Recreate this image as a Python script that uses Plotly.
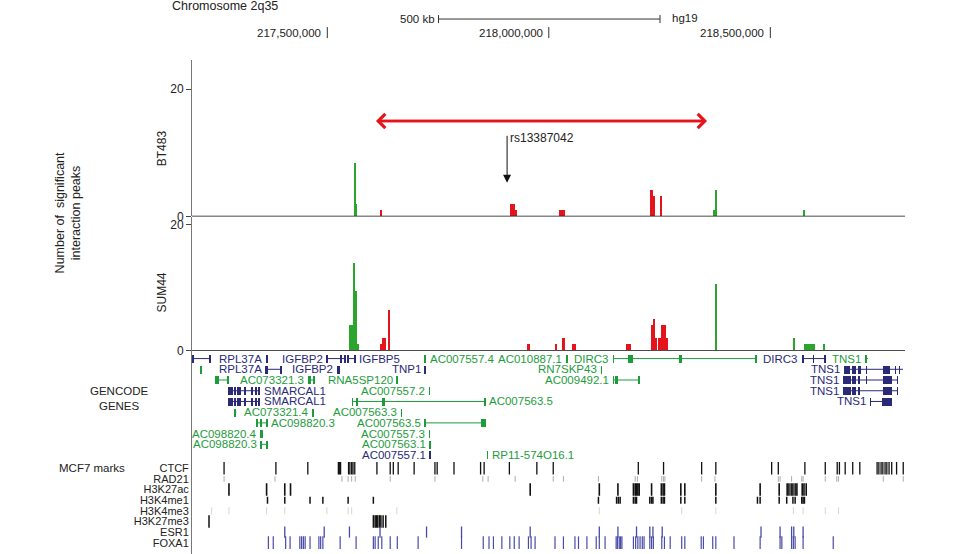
import plotly.graph_objects as go

# chr2 window shown (hg19), in Mb
x_start = 217.1946
x_end = 218.8040

# significant interaction peaks, BT483: position (Mb), bar width (Mb), count, kind (g = green, r = red)
bt483_pos = [217.5614, 217.5659, 217.6219, 217.9181, 217.9271, 218.0298,
             218.2323, 218.2368, 218.2537, 218.3740, 218.3770, 218.5767]
bt483_width = [0.0045, 0.0034, 0.0045, 0.0113, 0.0034, 0.0135,
               0.0045, 0.0045, 0.0040, 0.0023, 0.0034, 0.0034]
bt483_count = [8.4, 2, 1, 2, 1, 1, 4.2, 3.2, 3.2, 1, 4.2, 1]
bt483_kind = ['g', 'g', 'r', 'r', 'r', 'r', 'r', 'r', 'r', 'g', 'g', 'g']

# SUM44
sum44_pos = [217.5546, 217.5607, 217.5646, 217.5688, 217.6223, 217.6275, 217.6386,
             217.9537, 218.0167, 218.0327, 218.0562, 218.1794, 218.2334, 218.2379,
             218.2418, 218.2499, 218.2582, 218.2668, 218.3774, 218.5542, 218.5882, 218.6205]
sum44_width = [0.0102, 0.0038, 0.0038, 0.0052, 0.0036, 0.0097, 0.0027,
               0.0074, 0.0027, 0.0074, 0.0090, 0.0120, 0.0052, 0.0038,
               0.0038, 0.0054, 0.0113, 0.0059, 0.0027, 0.0027, 0.0242, 0.0027]
sum44_count = [4, 13.8, 9.4, 1, 1, 2, 6.3,
               1, 1, 2, 1, 1, 4, 5,
               2, 2, 4, 2, 10.5, 2, 1, 1]
sum44_kind = ['g', 'g', 'g', 'g', 'r', 'r', 'r',
              'r', 'r', 'r', 'r', 'r', 'r', 'r',
              'r', 'r', 'r', 'r', 'g', 'g', 'g', 'g']

# GENCODE genes: name, row, start, end (Mb), type (c = coding, n = non-coding), label side
gene_name = ['', 'RPL37A', 'IGFBP2', 'IGFBP5', 'AC007557.4', 'AC010887.1', 'DIRC3', 'DIRC3', 'TNS1',
             '', 'RPL37A', 'IGFBP2', 'TNP1', 'RN7SKP43', 'TNS1',
             '', 'AC073321.3', 'RNA5SP120', 'AC009492.1', 'TNS1',
             'SMARCAL1', 'AC007557.2', 'TNS1',
             'SMARCAL1', 'AC007563.5', 'TNS1',
             '', 'AC073321.4', 'AC007563.3',
             'AC098820.3', 'AC007563.5',
             'AC098820.4', 'AC007557.3',
             'AC098820.3', 'AC007563.1',
             'AC007557.1', 'RP11-574O16.1']
gene_row = [1, 1, 1, 1, 1, 1, 1, 1, 1,
            2, 2, 2, 2, 2, 2,
            3, 3, 3, 3, 3,
            4, 4, 4,
            5, 5, 5,
            6, 6, 6,
            7, 7,
            8, 8,
            9, 9,
            10, 10]
gene_start = [217.1968, 217.3616, 217.4993, 217.5445, 217.7205, 218.0399, 218.1449, 218.5715, 218.7138,
              217.2149, 217.3616, 217.5219, 217.7205, 218.1178, 218.6664,
              217.2465, 217.4564, 217.6573, 218.1449, 218.6641,
              217.2758, 217.7296, 218.6641,
              217.2758, 217.5558, 218.7250,
              217.2894, 217.4677, 217.6664,
              217.3413, 217.7205,
              217.3494, 217.7296,
              217.3503, 217.7318,
              217.7318, 217.8605]
gene_end = [217.2352, 217.3661, 217.5422, 217.5625, 217.7225, 218.0419, 218.4677, 218.6235, 218.7205,
            217.2169, 217.3955, 217.5287, 217.7225, 218.1198, 218.7995,
            217.2758, 217.4700, 217.6593, 218.2036, 218.7882,
            217.3481, 217.7316, 218.7882,
            217.3481, 217.8560, 218.7747,
            217.2950, 217.4697, 217.6684,
            217.3639, 217.8582,
            217.3539, 217.7316,
            217.3639, 217.7338,
            217.7338, 217.8625]
gene_type = ['c', 'c', 'c', 'c', 'n', 'n', 'n', 'c', 'n',
             'n', 'c', 'c', 'c', 'n', 'c',
             'n', 'n', 'n', 'n', 'c',
             'c', 'n', 'c',
             'c', 'n', 'c',
             'n', 'n', 'n',
             'n', 'n',
             'n', 'n',
             'n', 'n',
             'c', 'n']
gene_side = ['', 'L', 'L', 'R', 'R', 'L', 'L', 'L', 'L',
             '', 'L', 'L', 'L', 'L', 'L',
             '', 'L', 'L', 'L', 'L',
             'R', 'L', 'L',
             'R', 'R', 'L',
             '', 'L', 'L',
             'R', 'L',
             'L', 'L',
             'L', 'L',
             'L', 'R']

# exons: row, start (Mb), length (Mb), type
exon_row = [1, 1, 1, 1, 1, 1, 1, 1, 1, 1, 1, 1, 1, 1, 1, 1, 1, 1, 1,
            2, 2, 2, 2, 2, 2, 2, 2, 2, 2, 2, 2, 2,
            3, 3, 3, 3, 3, 3, 3, 3, 3, 3, 3, 3, 3, 3,
            4, 4, 4, 4, 4, 4, 4, 4, 4, 4, 4, 4, 4, 4, 4,
            5, 5, 5, 5, 5, 5, 5, 5, 5, 5, 5, 5, 5, 5, 5,
            6, 6, 6,
            7, 7, 7, 7, 7,
            8, 8,
            9, 9, 9,
            10, 10]
exon_start = [217.1968, 217.2342, 217.3616, 217.4993, 217.5287, 217.5388, 217.5445, 217.5612,
              217.7205, 218.0399, 218.1449, 218.1788, 218.2939, 218.4665,
              218.5715, 218.5738, 218.5964, 218.6225, 218.7138,
              217.2149, 217.3616, 217.3945, 217.5219, 217.7205, 218.1178,
              218.6664, 218.6844, 218.6980, 218.7160, 218.7544, 218.7815, 218.7905,
              217.2465, 217.2748, 217.4564, 217.4690, 217.6573, 218.1449, 218.1494, 218.2026,
              218.6641, 218.6844, 218.6980, 218.7160, 218.7544, 218.7860,
              217.2758, 217.2826, 217.2894, 217.2973, 217.3029, 217.3142, 217.3278, 217.3368, 217.3436,
              217.7296, 218.6641, 218.6844, 218.6980, 218.7544, 218.7860,
              217.2758, 217.2826, 217.2894, 217.2973, 217.3029, 217.3142, 217.3278, 217.3368, 217.3436,
              217.5558, 217.5670, 217.6257, 217.8550, 218.7250, 218.7521,
              217.2894, 217.4677, 217.6664,
              217.3413, 217.3481, 217.3629, 217.7205, 217.8469,
              217.3494, 217.7296,
              217.3503, 217.3629, 217.7318,
              217.7318, 217.8605]
exon_len = [0.0020, 0.0030, 0.0045, 0.0030, 0.0034, 0.0034, 0.0035, 0.0025,
            0.0020, 0.0020, 0.0020, 0.0113, 0.0068, 0.0020,
            0.0020, 0.0020, 0.0020, 0.0020, 0.0030,
            0.0020, 0.0040, 0.0020, 0.0068, 0.0020, 0.0020,
            0.0135, 0.0090, 0.0067, 0.0020, 0.0158, 0.0020, 0.0020,
            0.0090, 0.0020, 0.0068, 0.0020, 0.0020, 0.0020, 0.0068, 0.0020,
            0.0180, 0.0090, 0.0045, 0.0020, 0.0203, 0.0020,
            0.0045, 0.0045, 0.0045, 0.0020, 0.0020, 0.0025, 0.0025, 0.0025, 0.0045,
            0.0020, 0.0180, 0.0090, 0.0045, 0.0203, 0.0020,
            0.0045, 0.0045, 0.0045, 0.0020, 0.0020, 0.0025, 0.0025, 0.0025, 0.0045,
            0.0020, 0.0020, 0.0040, 0.0020, 0.0020, 0.0226,
            0.0056, 0.0020, 0.0020,
            0.0020, 0.0045, 0.0020, 0.0020, 0.0113,
            0.0045, 0.0020,
            0.0020, 0.0020, 0.0020,
            0.0020, 0.0020]
exon_type = ['c', 'c', 'c', 'c', 'c', 'c', 'c', 'c',
             'n', 'n', 'n', 'n', 'n', 'n',
             'c', 'c', 'c', 'c', 'n',
             'n', 'c', 'c', 'c', 'c', 'n',
             'c', 'c', 'c', 'c', 'c', 'c', 'c',
             'n', 'n', 'n', 'n', 'n', 'n', 'n', 'n',
             'c', 'c', 'c', 'c', 'c', 'c',
             'c', 'c', 'c', 'c', 'c', 'c', 'c', 'c', 'c',
             'n', 'c', 'c', 'c', 'c', 'c',
             'c', 'c', 'c', 'c', 'c', 'c', 'c', 'c', 'c',
             'n', 'n', 'n', 'n', 'c', 'c',
             'n', 'n', 'n',
             'n', 'n', 'n', 'n', 'n',
             'n', 'n',
             'n', 'n', 'n',
             'c', 'n']

# MCF7 marks (peak positions, Mb)
mark_names = ['CTCF', 'RAD21', 'H3K27ac', 'H3K4me1', 'H3K4me3', 'H3K27me3', 'ESR1', 'FOXA1']
ctcf = [217.267, 217.384, 217.456, 217.525, 217.528, 217.530, 217.548, 217.551, 217.555, 217.558,
        217.562, 217.612, 217.642, 217.649, 217.660, 217.696, 217.743, 217.748, 217.786, 217.846,
        217.854, 217.911, 217.973, 218.010, 218.202, 218.259, 218.345, 218.377, 218.503, 218.518,
        218.578, 218.624, 218.651, 218.656, 218.669, 218.686, 218.702, 218.741, 218.745, 218.750,
        218.754, 218.759, 218.763, 218.768, 218.774, 218.785, 218.800]
rad21 = [217.267, 217.382, 217.533, 217.547, 217.555, 217.563, 217.642, 217.743, 217.851, 217.863,
         217.924, 218.010, 218.033, 218.112, 218.195, 218.200, 218.255, 218.259, 218.262, 218.345,
         218.375, 218.518, 218.522, 218.548, 218.571, 218.574, 218.624, 218.650, 218.654, 218.755,
         218.800]
h3k27ac = [217.278, 217.363, 217.404, 217.417, 217.958, 218.114, 218.156, 218.191, 218.195, 218.198,
           218.201, 218.204, 218.232, 218.254, 218.258, 218.261, 218.298, 218.307, 218.377, 218.477,
           218.520, 218.538, 218.542, 218.547, 218.551, 218.556, 218.560, 218.572, 218.576, 218.581]
h3k4me1 = [217.365, 217.404, 217.461, 217.490, 217.547, 217.604, 218.112, 218.153, 218.157, 218.161,
           218.191, 218.195, 218.198, 218.228, 218.232, 218.235, 218.254, 218.258, 218.261, 218.298,
           218.307, 218.377, 218.471, 218.477, 218.520, 218.537, 218.551, 218.556, 218.571, 218.574,
           218.577]
h3k4me3 = [217.239, 217.278, 217.363, 217.404, 217.499, 217.547, 217.555, 217.657, 218.114, 218.300,
           218.377, 218.552, 218.574, 218.624, 218.654]
h3k27me3 = [217.233, 217.604, 217.608, 217.611, 217.614, 217.618, 217.621, 217.626, 217.632]
esr1 = [217.404, 217.493, 217.550, 217.619, 217.724, 217.803, 217.958, 218.114, 218.156, 218.198,
        218.228, 218.235, 218.256, 218.479, 218.522, 218.548, 218.553, 218.574]
foxa1 = [217.367, 217.378, 217.406, 217.416, 217.438, 217.442, 217.446, 217.450, 217.461, 217.481,
         217.485, 217.490, 217.529, 217.565, 217.604, 217.608, 217.615, 217.623, 217.642, 217.658,
         217.705, 217.803, 217.852, 217.865, 217.875, 217.894, 217.912, 217.922, 217.933, 217.954,
         217.960, 217.969, 218.014, 218.033, 218.059, 218.067, 218.086, 218.107, 218.114, 218.127,
         218.152, 218.155, 218.159, 218.162, 218.165, 218.191, 218.196, 218.201, 218.206, 218.211,
         218.215, 218.228, 218.232, 218.236, 218.255, 218.261, 218.274, 218.300, 218.307, 218.344,
         218.349, 218.370, 218.377, 218.418, 218.477, 218.522, 218.526, 218.548, 218.552, 218.556,
         218.574, 218.642]
marks = [ctcf, rad21, h3k27ac, h3k4me1, h3k4me3, h3k27me3, esr1, foxa1]

coord_ticks = [217.5, 218.0, 218.5]
scale_bar = [217.751, 218.251]
tad_arrow = [217.6099, 218.3571]   # red double arrow
tad_level = 15
snp_pos = 217.9058   # rs13387042
snp_name = 'rs13387042'

FONT = 'Liberation Sans, Arial, sans-serif'
H = 554        # layout positions below are given in pixels of a 554-high picture
H_FIG = 562    # the photograph comes out ~1.4% shorter than the figure, so draw it that much taller
RED = '#e5141c'
GREEN = '#2ba52e'
bar_col = {'g': GREEN, 'r': RED}
gene_col = {'c': '#2a2a78', 'n': '#1e9c3c'}
mark_style = {  # colour, tick length px, line width
    'CTCF': ('#111111', 9, 1.3), 'RAD21': ('#aaaaaa', 4, 1.0), 'H3K27ac': ('#111111', 9, 1.6),
    'H3K4me1': ('#111111', 5, 1.5), 'H3K4me3': ('#d6d6d6', 5, 1.0), 'H3K27me3': ('#111111', 9, 1.5),
    'ESR1': ('#4a4aa8', 8, 1.3), 'FOXA1': ('#4a4aa8', 9, 1.2)}


def py(p):
    return 1 - p / H


fig = go.Figure()

for pos, wid, cnt, kind, ax in [(bt483_pos, bt483_width, bt483_count, bt483_kind, 'y'),
                                (sum44_pos, sum44_width, sum44_count, sum44_kind, 'y2')]:
    for k, col in bar_col.items():
        idx = [i for i, v in enumerate(kind) if v == k]
        fig.add_trace(go.Bar(x=[pos[i] for i in idx], y=[cnt[i] for i in idx],
                             width=[wid[i] for i in idx], yaxis=ax,
                             marker=dict(color=col, line=dict(width=0)),
                             showlegend=False, hoverinfo='skip'))

# gene bodies
for t, col in gene_col.items():
    xs, ys = [], []
    for r, s, e, gt in zip(gene_row, gene_start, gene_end, gene_type):
        if gt == t and e - s > 0.003:
            xs += [s, e, None]
            ys += [r, r, None]
    fig.add_trace(go.Scatter(x=xs, y=ys, mode='lines', yaxis='y3',
                             line=dict(color=col, width=1), showlegend=False, hoverinfo='skip'))

# exons
for t, col in gene_col.items():
    idx = [i for i, v in enumerate(exon_type) if v == t]
    fig.add_trace(go.Bar(orientation='h', y=[exon_row[i] for i in idx],
                         x=[exon_len[i] for i in idx], base=[exon_start[i] for i in idx],
                         width=0.75, yaxis='y3', marker=dict(color=col, line=dict(width=0)),
                         showlegend=False, hoverinfo='skip'))

# marks
for i, (name, vals) in enumerate(zip(mark_names, marks)):
    col, size, lw = mark_style[name]
    fig.add_trace(go.Scatter(x=vals, y=[i + 1] * len(vals), mode='markers', yaxis='y4',
                             marker=dict(symbol='line-ns', size=size, color=col,
                                         line=dict(color=col, width=lw)),
                             showlegend=False, hoverinfo='skip'))

ann = []
for name, r, s, e, gt, side in zip(gene_name, gene_row, gene_start, gene_end, gene_type, gene_side):
    if not side:
        continue
    ann.append(dict(x=s if side == 'L' else e, y=r, xref='x', yref='y3', text=name,
                    xanchor='right' if side == 'L' else 'left', yanchor='middle',
                    xshift=-2 if side == 'L' else 2,
                    showarrow=False, font=dict(size=11.5, color=gene_col[gt])))

txt = dict(family=FONT, size=12, color='#222222')
small = dict(family=FONT, size=11.5, color='#222222')
ann += [
    dict(x=170 / 960, y=py(6), xref='paper', yref='paper', text='Chromosome 2q35',
         xanchor='left', yanchor='middle', showarrow=False, font=dict(size=12.5, color='#222222')),
    dict(x=scale_bar[0], y=py(19), xref='x', yref='paper', text='500 kb', xanchor='right',
         yanchor='middle', xshift=-2, showarrow=False, font=small),
    dict(x=scale_bar[1], y=py(18), xref='x', yref='paper', text='hg19', xanchor='left',
         yanchor='middle', xshift=10, showarrow=False, font=small),
    dict(x=68 / 960, y=py(213), xref='paper', yref='paper', textangle=-90,
         text='Number of  significant<br>interaction peaks', showarrow=False,
         xanchor='center', yanchor='middle', font=dict(size=12.5, color='#222222')),
    dict(x=162 / 960, y=py(148), xref='paper', yref='paper', textangle=-90, text='BT483',
         xanchor='center', yanchor='middle', showarrow=False, font=txt),
    dict(x=162 / 960, y=py(292), xref='paper', yref='paper', textangle=-90, text='SUM44',
         xanchor='center', yanchor='middle', showarrow=False, font=txt),
    dict(x=119 / 960, y=py(398), xref='paper', yref='paper', text='GENCODE<br>GENES',
         xanchor='center', yanchor='middle', showarrow=False, font=small),
    dict(x=57 / 960, y=py(467), xref='paper', yref='paper', text='MCF7 marks', xanchor='left',
         yanchor='middle', showarrow=False, font=dict(size=11.5, color='#222222')),
    dict(x=tad_arrow[0], y=tad_level, ax=tad_arrow[1], ay=tad_level, xref='x', yref='y',
         axref='x', ayref='y', text='', showarrow=True, arrowhead=4, arrowsize=1.1,
         arrowwidth=2.5, arrowcolor=RED),
    dict(x=tad_arrow[1], y=tad_level, ax=tad_arrow[0], ay=tad_level, xref='x', yref='y',
         axref='x', ayref='y', text='', showarrow=True, arrowhead=4, arrowsize=1.1,
         arrowwidth=2.5, arrowcolor=RED),
    dict(x=snp_pos, y=5.3, ax=snp_pos, ay=12.9, xref='x', yref='y', axref='x', ayref='y',
         text='', showarrow=True, arrowhead=2, arrowsize=1.6, arrowwidth=1, arrowcolor='#111111'),
    dict(x=snp_pos, y=12.4, xref='x', yref='y', text=snp_name, xanchor='left', yanchor='middle',
         xshift=1, showarrow=False, font=txt),
]
for t in coord_ticks:
    ann.append(dict(x=t, y=py(33), xref='x', yref='paper', text=f'{int(t * 1e6):,}',
                    xanchor='right', yanchor='middle', xshift=-4, showarrow=False, font=small))

shapes = [
    dict(type='line', xref='x domain', yref='y', x0=0, x1=1, y0=0, y1=0,
         line=dict(color='#111111', width=1.5)),
    dict(type='line', xref='x domain', yref='y2', x0=0, x1=1, y0=0, y1=0,
         line=dict(color='#111111', width=1.5)),
    dict(type='line', xref='x', yref='paper', x0=scale_bar[0], x1=scale_bar[1],
         y0=py(19), y1=py(19), line=dict(color='#333333', width=1)),
]
for xb in scale_bar:
    shapes.append(dict(type='line', xref='x', yref='paper', x0=xb, x1=xb, y0=py(15), y1=py(23),
                       line=dict(color='#333333', width=1)))
for t in coord_ticks:
    shapes.append(dict(type='line', xref='x', yref='paper', x0=t, x1=t, y0=py(27), y1=py(38),
                       line=dict(color='#333333', width=1)))

axis_line = dict(showline=True, linecolor='#777777', linewidth=1, showgrid=False,
                 zeroline=False, anchor='x')
fig.update_layout(
    width=960, height=H_FIG, autosize=False, margin=dict(l=0, r=0, t=0, b=0),
    paper_bgcolor='white', plot_bgcolor='white', barmode='overlay', bargap=0,
    font=dict(family=FONT, size=12, color='#222222'),
    xaxis=dict(domain=[192 / 960, 905 / 960], range=[x_start, x_end], visible=False),
    yaxis=dict(domain=[py(216), py(60)], range=[0, 24.57], tickvals=[0, 20],
               ticks='outside', ticklen=5, tickcolor='#444444', **axis_line),
    yaxis2=dict(domain=[py(350), py(217)], range=[0, 21.1], tickvals=[0, 20],
                ticks='outside', ticklen=5, tickcolor='#444444', **axis_line),
    yaxis3=dict(domain=[py(461), py(350)], range=[10.63, 0.26], showticklabels=False,
                ticks='', **axis_line),
    yaxis4=dict(domain=[0, py(461)], range=[9.16, 0.39], tickvals=list(range(1, 9)),
                ticktext=mark_names, ticks='', tickfont=dict(size=11), **axis_line),
    annotations=ann, shapes=shapes,
)

# the page's default 8px body margin would shift the figure
fig.write_html("out.html", config={'displayModeBar': False, 'responsive': False},
               post_script="document.body.style.margin='0';")
